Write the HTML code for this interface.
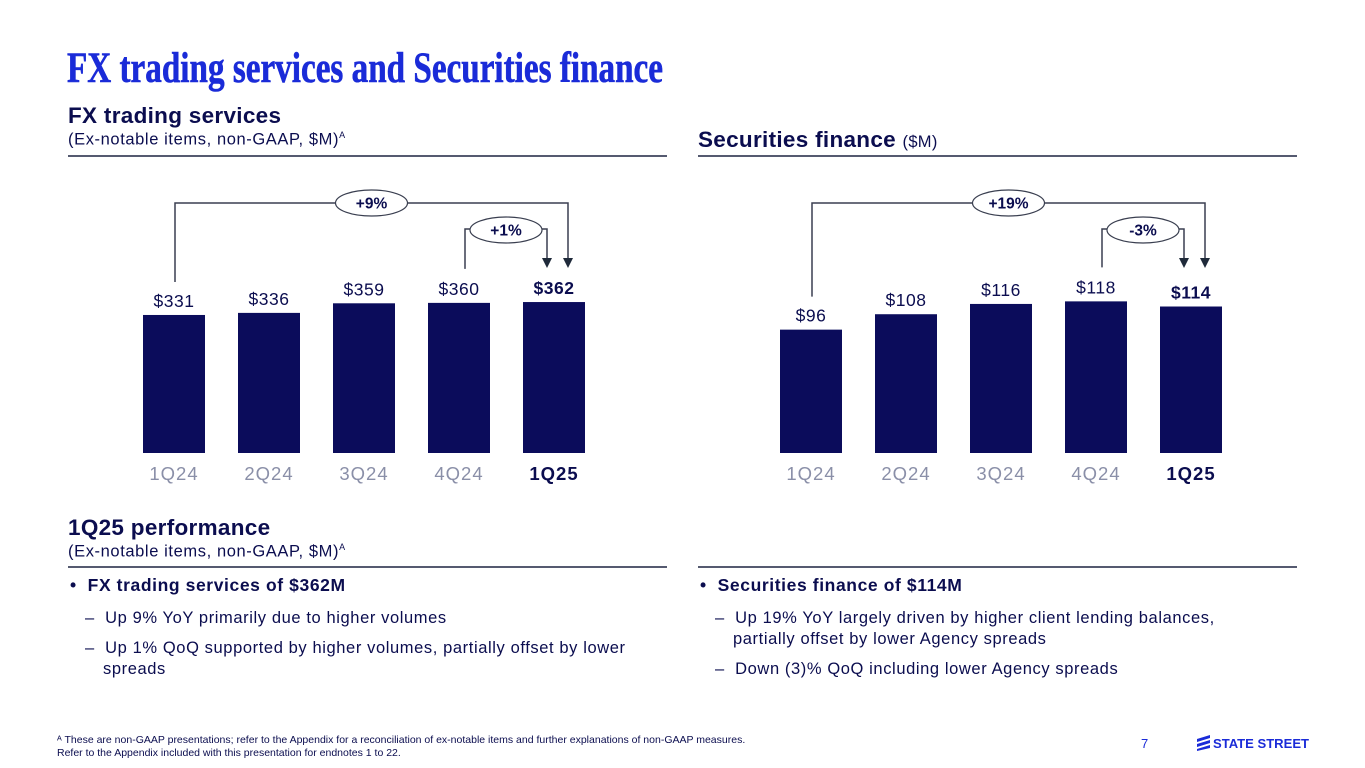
<!DOCTYPE html>
<html><head><meta charset="utf-8"><style>
body{margin:0;width:1365px;height:768px;background:#fff;position:relative;overflow:hidden;font-family:"Liberation Sans",sans-serif;color:#0b0d4f}
.a{position:absolute;margin:0}
.h{font-weight:bold;font-size:22.5px;color:#0b0d4f;letter-spacing:0.3px}
.s{font-size:16.5px;color:#0b0d4f;letter-spacing:0.6px}
.rule{position:absolute;height:1.5px;background:#555a70}
.b1{font-weight:bold;font-size:17.5px;letter-spacing:0.6px}
.b2{font-size:16.5px;line-height:21px;letter-spacing:0.6px}
</style></head><body>
<svg class="a" style="left:0;top:0" width="1365" height="100">
<text x="67" y="82" font-family="Liberation Serif, serif" font-weight="bold" font-size="43" fill="#1a2bd8" stroke="#1a2bd8" stroke-width="0.6" textLength="596" lengthAdjust="spacingAndGlyphs">FX trading services and Securities finance</text></svg>
<div class="a h" style="left:68px;top:103px">FX trading services</div>
<div class="a s" style="left:68px;top:130px">(Ex-notable items, non-GAAP, $M)<sup style="font-size:9px">A</sup></div>
<div class="rule" style="left:68px;top:155px;width:599px"></div>
<div class="a h" style="left:698px;top:127px">Securities finance <span style="font-weight:normal;font-size:16.5px">($M)</span></div>
<div class="rule" style="left:698px;top:155px;width:599px"></div>
<svg class="a" id="charts" style="left:0;top:0" width="1365" height="500"></svg>
<div class="a h" style="left:68px;top:515px">1Q25 performance</div>
<div class="a s" style="left:68px;top:542px">(Ex-notable items, non-GAAP, $M)<sup style="font-size:9px">A</sup></div>
<div class="rule" style="left:68px;top:566px;width:599px"></div>
<div class="rule" style="left:698px;top:566px;width:599px"></div>
<div class="a" style="left:70px;top:575px;width:575px">
<div class="b1" style="margin-bottom:12px">•&nbsp; FX trading services of $362M</div>
<div class="b2" style="padding-left:33px;text-indent:-18px;margin-bottom:9px">–&nbsp;&nbsp;Up 9% YoY primarily due to higher volumes</div>
<div class="b2" style="padding-left:33px;text-indent:-18px">–&nbsp;&nbsp;Up 1% QoQ supported by higher volumes, partially offset by lower spreads</div></div>
<div class="a" style="left:700px;top:575px;width:545px">
<div class="b1" style="margin-bottom:12px">•&nbsp; Securities finance of $114M</div>
<div class="b2" style="padding-left:33px;text-indent:-18px;margin-bottom:9px">–&nbsp;&nbsp;Up 19% YoY largely driven by higher client lending balances, partially offset by lower Agency spreads</div>
<div class="b2" style="padding-left:33px;text-indent:-18px">–&nbsp;&nbsp;Down (3)% QoQ including lower Agency spreads</div></div>
<div class="a" style="left:57px;top:734px;font-size:10.5px;line-height:13px">ᴬ These are non-GAAP presentations; refer to the Appendix for a reconciliation of ex-notable items and further explanations of non-GAAP measures.<br>Refer to the Appendix included with this presentation for endnotes 1 to 22.</div>
<div class="a" style="left:1141px;top:736px;font-size:13px;color:#1a2bd8">7</div>
<div class="a" style="left:1196px;top:734px">
<svg width="115" height="18"><path d="M1 5 L14 1 L14 4 L1 8Z M1 10 L14 6 L14 9 L1 13Z M1 15 L14 11 L14 14 L1 17Z" fill="#1a2bd8"/><text x="17" y="14" font-size="13" font-weight="bold" fill="#1a2bd8" textLength="96" lengthAdjust="spacingAndGlyphs">STATE STREET</text></svg></div>
<script>
const categories=["1Q24","2Q24","3Q24","4Q24","1Q25"];
const fxValues=[331,336,359,360,362];
const secValues=[96,108,116,118,114];
const fxLabels=["$331","$336","$359","$360","$362"];
const secLabels=["$96","$108","$116","$118","$114"];
const fxChanges=["+9%","+1%"];
const secChanges=["+19%","-3%"];
const svg=document.getElementById('charts');
const NS='http://www.w3.org/2000/svg';
function mk(t,a){const e=document.createElementNS(NS,t);for(const k in a)e.setAttribute(k,a[k]);svg.appendChild(e);return e;}
function chart(x0,vals,labels,changes,scale,prefix){
 const base=453,pitch=95,bw=62;
 const xs=i=>x0+i*pitch;
 const y=v=>base-v*scale;
 vals.forEach((v,i)=>{
  const r=mk('rect',{x:xs(i),y:y(v),width:bw,height:base-y(v),fill:'#0b0c5b'});
  
  
  const last=i===vals.length-1;
  const t=mk('text',{x:xs(i)+bw/2,y:y(v)-8,'text-anchor':'middle','font-size':17.5,fill:'#0b0d4f','font-weight':last?'bold':'normal','letter-spacing':0.5});
  t.textContent=labels[i];
  
  
  const c=mk('text',{x:xs(i)+bw/2,y:480,'text-anchor':'middle','font-size':18.5,fill:last?'#0b0d4f':'#8a8fa8','font-weight':last?'bold':'normal','letter-spacing':1});
  c.textContent=categories[i];
  
  
 });
 const n=vals.length-1;
 const lx=xs(0)+bw/2+1, rx=xs(n)+bw/2+14, ly=y(vals[0])-33;
 const ix=xs(n-1)+bw/2+6, irx=xs(n)+bw/2-7;
 const st={stroke:'#3a3f50','stroke-width':1.5,fill:'none'};
 let p=mk('path',Object.assign({d:`M${lx} ${ly} V203 H${rx} V258`},st));
 
 
 p=mk('path',Object.assign({d:`M${ix} ${y(vals[n-1])-34} V229 H${irx} V258`},st));
 
 
 [rx,irx].forEach(ax=>{const a=mk('path',{d:`M${ax-5} 258 L${ax+5} 258 L${ax} 268Z`,fill:'#1f2a3a'});
  });
 const ells=[[(lx+rx)/2,203,changes[0]],[(ix+irx)/2,230,changes[1]]];
 ells.forEach((e,k)=>{
  const el=mk('ellipse',{cx:e[0],cy:e[1],rx:36,ry:13,fill:'#fff',stroke:'#3a3f50','stroke-width':1.2});
  
  
  const t=mk('text',{x:e[0],y:e[1]+5.5,'text-anchor':'middle','font-size':15.5,'font-weight':'bold',fill:'#0b0d4f'});
  t.textContent=e[2];
  
  
 });
}
chart(143,fxValues,fxLabels,fxChanges,0.417,'fx');
chart(780,secValues,secLabels,secChanges,1.285,'sec');
</script>
</body></html>
